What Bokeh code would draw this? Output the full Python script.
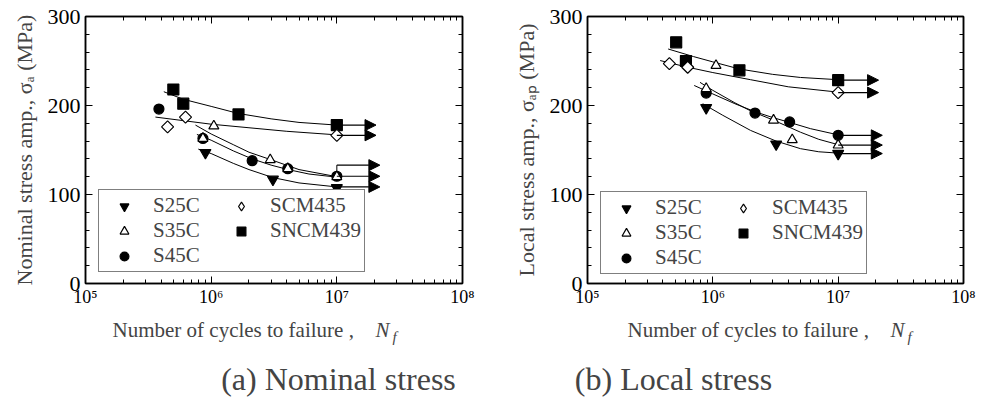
import numpy as np
from bokeh.plotting import figure
from bokeh.layouts import row, column
from bokeh.models import (FixedTicker, LogAxis, LinearAxis, Range1d, Legend, LegendItem,
                          Label, Arrow, NormalHead, ColumnDataSource, CustomJSTickFormatter)
from bokeh.embed import file_html
from bokeh.resources import INLINE

FONT = "Liberation Serif"

# ---------------- data ----------------
steels = ["S25C", "S35C", "S45C", "SCM435", "SNCM439"]
x_ticks = [1e5, 1e6, 1e7, 1e8]
x_tick_labels = ["10⁵", "10⁶", "10⁷", "10⁸"]
y_ticks = [0, 100, 200, 300]
x_title = "Number of cycles to failure ,"
captions = ["(a) Nominal stress", "(b) Local stress"]
y_titles = ["Nominal stress amp., σₐ (MPa)", "Local stress amp., σₐₚ (MPa)"]

# (a) nominal stress amplitude (MPa) vs cycles to failure
a_S25C_N = [9.0e5, 3.1e6, 1.0e7]
a_S25C_S = [147, 117, 107.5]
a_S35C_N = [8.6e5, 1.05e6, 2.95e6, 4.07e6, 1.0e7]
a_S35C_S = [163, 177, 139, 129, 120]
a_S45C_N = [3.84e5, 8.6e5, 2.12e6, 4.07e6, 1.0e7]
a_S45C_S = [196, 163, 138, 129, 120.5]
a_SCM435_N = [4.5e5, 6.25e5, 1.0e7]
a_SCM435_S = [176, 187, 166.5]
a_SNCM439_N = [5.0e5, 6.0e5, 1.65e6, 1.0e7]
a_SNCM439_S = [218, 202, 190, 178]

a_fit_S25C_N = [7.9e5, 1.0e6, 1.5e6, 2.0e6, 3.1e6, 5.0e6, 1.0e7]
a_fit_S25C_S = [151, 146, 135, 128, 119, 113, 108.5]
a_fit_S35C_N = [7.5e5, 1.0e6, 1.5e6, 2.0e6, 3.0e6, 5.0e6, 1.0e7]
a_fit_S35C_S = [178, 168, 156, 147.5, 139, 128, 120]
a_fit_S45C_N = [7.7e5, 1.0e6, 1.5e6, 2.12e6, 3.0e6, 4.1e6, 6.0e6, 1.0e7]
a_fit_S45C_S = [167.5, 161, 149, 140, 133, 128, 123, 119.5]
a_fit_SCM435_N = [3.6e5, 6.0e5, 1.0e6, 2.0e6, 4.0e6, 1.0e7]
a_fit_SCM435_S = [187, 183, 179, 175, 171, 167]
a_fit_SNCM439_N = [4.2e5, 6.0e5, 1.0e6, 1.65e6, 3.0e6, 5.0e6, 1.0e7]
a_fit_SNCM439_S = [215.5, 207, 199, 191, 185, 181, 178]

a_runout_S = [178, 166.5, 133, 120.5, 108.5]
a_runout_end = [2.05e7, 2.05e7, 2.2e7, 2.2e7, 2.2e7]
a_link_N = [1.0e7, 1.0e7]
a_link_S = [120.5, 133]

# (b) local stress amplitude (MPa) vs cycles to failure
b_S25C_N = [8.85e5, 3.2e6, 1.0e7]
b_S25C_S = [197.5, 156.5, 146]
b_S35C_N = [8.85e5, 1.06e6, 3.05e6, 4.3e6, 1.0e7]
b_S35C_S = [219, 245, 183.5, 161.5, 155.5]
b_S45C_N = [8.85e5, 2.17e6, 4.1e6, 1.0e7]
b_S45C_S = [214, 191.5, 181.5, 166.5]
b_SCM435_N = [4.5e5, 6.3e5, 1.0e7]
b_SCM435_S = [247, 243, 214.5]
b_SNCM439_N = [5.1e5, 6.1e5, 1.63e6, 1.0e7]
b_SNCM439_S = [271, 250, 239.5, 228.5]

b_fit_S25C_N = [8.3e5, 1.2e6, 2.0e6, 3.2e6, 5.0e6, 7.0e6, 1.0e7]
b_fit_S25C_S = [202, 189, 172, 160, 151.5, 148, 146.5]
b_fit_S35C_N = [7.9e5, 1.0e6, 1.5e6, 2.0e6, 3.05e6, 5.0e6, 7.0e6, 1.0e7]
b_fit_S35C_S = [226, 217, 203, 194, 183.5, 170, 162, 156]
b_fit_S45C_N = [7.1e5, 1.0e6, 1.5e6, 2.17e6, 3.0e6, 4.1e6, 6.0e6, 1.0e7]
b_fit_S45C_S = [222.5, 213, 202, 193, 186.5, 181, 174, 167]
b_fit_SCM435_N = [3.8e5, 6.3e5, 1.0e6, 2.0e6, 4.0e6, 1.0e7]
b_fit_SCM435_S = [250.5, 243, 237, 229, 221, 215]
b_fit_SNCM439_N = [4.4e5, 7.0e5, 1.0e6, 1.63e6, 3.0e6, 5.0e6, 1.0e7]
b_fit_SNCM439_S = [263.5, 255, 249, 241, 235, 231.5, 229]

b_runout_S = [228.5, 214.5, 166.5, 155.5, 146]
b_runout_end = [2.1e7, 2.1e7, 2.25e7, 2.25e7, 2.25e7]

# ---------------- styles ----------------
MARK = {
    "S25C": dict(marker="inverted_triangle", size=11, fill_color="black", angle=0.0),
    "S35C": dict(marker="triangle", size=10, fill_color="white", angle=0.0),
    "S45C": dict(marker="circle", size=10, fill_color="black", angle=0.0),
    "SCM435": dict(marker="square", size=8.5, fill_color="white", angle=np.pi / 4),
    "SNCM439": dict(marker="square", size=11, fill_color="black", angle=0.0),
}
DRAW_ORDER = ["SNCM439", "SCM435", "S25C", "S45C", "S35C"]

x_minor = [m * 10.0 ** e for e in (5, 6, 7) for m in range(2, 10)]
y_minor = list(range(0, 301, 20))

TOP_H = 310


def style_axis(ax, size, show):
    ax.axis_line_color = "black"
    ax.axis_line_width = 1.5
    ax.major_tick_in = 7
    ax.major_tick_out = 0
    ax.minor_tick_in = 4
    ax.minor_tick_out = 0
    ax.major_tick_line_color = "black"
    ax.minor_tick_line_color = "black"
    ax.major_tick_line_width = 1
    ax.minor_tick_line_width = 1
    ax.major_label_text_font = FONT
    ax.major_label_text_font_size = size
    ax.major_label_text_color = "black"
    if not show:
        ax.formatter = CustomJSTickFormatter(code="return ''")
        ax.major_label_standoff = 0


def panel(series, fits, runout_S, runout_end, ylabel, width, border_left,
          border_right, frame_top, legend_loc, link=None):
    frame_bottom = 283
    p = figure(width=width, height=TOP_H, x_axis_type="log",
               x_range=Range1d(1e5, 1e8), y_range=Range1d(0, 300),
               output_backend="svg", toolbar_location=None,
               min_border_left=border_left, min_border_right=border_right,
               min_border_top=frame_top, min_border_bottom=TOP_H - frame_bottom)
    p.xgrid.visible = False
    p.ygrid.visible = False
    p.outline_line_color = "black"
    p.outline_line_width = 1.5
    p.background_fill_color = "white"
    p.border_fill_color = "white"

    xt = FixedTicker(ticks=x_ticks, minor_ticks=x_minor)
    yt = FixedTicker(ticks=y_ticks, minor_ticks=y_minor)
    p.xaxis.ticker = xt
    p.yaxis.ticker = yt
    p.xaxis.major_label_overrides = dict(zip(x_ticks, x_tick_labels))
    style_axis(p.xaxis[0], "18px", True)
    style_axis(p.yaxis[0], "22px", True)
    p.xaxis.major_label_standoff = 3
    p.yaxis.major_label_standoff = 5
    p.yaxis.axis_label = ylabel
    p.yaxis.axis_label_text_font = FONT
    p.yaxis.axis_label_text_font_size = "22px"
    p.yaxis.axis_label_text_font_style = "normal"
    p.yaxis.axis_label_standoff = 8

    top = LogAxis(ticker=xt)
    style_axis(top, "1px", False)
    p.add_layout(top, "above")
    right = LinearAxis(ticker=yt)
    style_axis(right, "1px", False)
    p.add_layout(right, "right")

    for name in steels:
        fN, fS = fits[name]
        p.line(fN, fS, line_color="black", line_width=1)

    arrows = ColumnDataSource(dict(x0=[1e7] * len(runout_S), y0=runout_S,
                                   x1=runout_end, y1=runout_S))
    p.add_layout(Arrow(end=NormalHead(size=11, fill_color="black", line_color="black"),
                       source=arrows, x_start="x0", y_start="y0", x_end="x1", y_end="y1",
                       line_color="black", line_width=1.2))
    if link is not None:
        p.line(link[0], link[1], line_color="black", line_width=1)

    rends = {}
    for name in DRAW_ORDER:
        N, S = series[name]
        m = MARK[name]
        rends[name] = p.scatter(N, S, marker=m["marker"], size=m["size"],
                                fill_color=m["fill_color"], line_color="black",
                                line_width=1.2, angle=m["angle"])
    # legend keys are not rotated, so the open-diamond key uses a diamond marker
    # (a single NaN row: nothing is drawn in the plot area)
    rends["SCM435"] = p.scatter([np.nan], [np.nan], marker="diamond", size=17,
                                fill_color="white", line_color="black", line_width=1.2)

    legend = Legend(items=[LegendItem(label=n, renderers=[rends[n]]) for n in steels],
                    location=legend_loc, orientation="vertical", ncols=2,
                    label_text_font=FONT, label_text_font_size="21px",
                    glyph_width=44, glyph_height=22, label_standoff=7,
                    label_width=66, label_height=22, spacing=0, padding=3,
                    border_line_color="black", border_line_width=1,
                    background_fill_color="white", background_fill_alpha=1.0)
    p.add_layout(legend)
    return p


a_series = {
    "S25C": (a_S25C_N, a_S25C_S), "S35C": (a_S35C_N, a_S35C_S),
    "S45C": (a_S45C_N, a_S45C_S), "SCM435": (a_SCM435_N, a_SCM435_S),
    "SNCM439": (a_SNCM439_N, a_SNCM439_S),
}
a_fits = {
    "S25C": (a_fit_S25C_N, a_fit_S25C_S), "S35C": (a_fit_S35C_N, a_fit_S35C_S),
    "S45C": (a_fit_S45C_N, a_fit_S45C_S), "SCM435": (a_fit_SCM435_N, a_fit_SCM435_S),
    "SNCM439": (a_fit_SNCM439_N, a_fit_SNCM439_S),
}
b_series = {
    "S25C": (b_S25C_N, b_S25C_S), "S35C": (b_S35C_N, b_S35C_S),
    "S45C": (b_S45C_N, b_S45C_S), "SCM435": (b_SCM435_N, b_SCM435_S),
    "SNCM439": (b_SNCM439_N, b_SNCM439_S),
}
b_fits = {
    "S25C": (b_fit_S25C_N, b_fit_S25C_S), "S35C": (b_fit_S35C_N, b_fit_S35C_S),
    "S45C": (b_fit_S45C_N, b_fit_S45C_S), "SCM435": (b_fit_SCM435_N, b_fit_SCM435_S),
    "SNCM439": (b_fit_SNCM439_N, b_fit_SNCM439_S),
}

p1 = panel(a_series, a_fits, a_runout_S, a_runout_end, y_titles[0],
           width=490, border_left=85, border_right=28, frame_top=14,
           legend_loc=(13, 11), link=(a_link_N, a_link_S))
p2 = panel(b_series, b_fits, b_runout_S, b_runout_end, y_titles[1],
           width=490, border_left=97, border_right=17, frame_top=16,
           legend_loc=(13, 9))

# ---- text strip below the panels: x-axis titles and sub-figure captions ----
CAP_W, CAP_H = 980, 92
cap = figure(width=CAP_W, height=CAP_H, x_range=Range1d(0, CAP_W), y_range=Range1d(0, CAP_H),
             output_backend="svg", toolbar_location=None, min_border=0,
             x_axis_location=None, y_axis_location=None)
cap.outline_line_color = None
cap.xgrid.visible = False
cap.ygrid.visible = False
cap.border_fill_color = "white"


def page_y(y):
    return TOP_H + CAP_H - y


for x0 in (112, 627):
    cap.add_layout(Label(x=x0, y=page_y(329), x_units="screen", y_units="screen",
                         text=x_title, text_font=FONT, text_font_size="21px",
                         text_baseline="middle"))
    cap.add_layout(Label(x=x0 + 263, y=page_y(329), x_units="screen", y_units="screen",
                         text="N", text_font=FONT, text_font_style="italic",
                         text_font_size="21px", text_baseline="middle"))
    cap.add_layout(Label(x=x0 + 280, y=page_y(336), x_units="screen", y_units="screen",
                         text="f", text_font=FONT, text_font_style="italic",
                         text_font_size="15px", text_baseline="middle"))
for cx, txt in zip((338, 673), captions):
    cap.add_layout(Label(x=cx, y=page_y(378), x_units="screen", y_units="screen",
                         text=txt, text_font=FONT, text_font_size="32px",
                         text_align="center", text_baseline="middle"))

layout = column(row(p1, p2), cap)
open("out.html", "w").write(file_html(layout, INLINE))
